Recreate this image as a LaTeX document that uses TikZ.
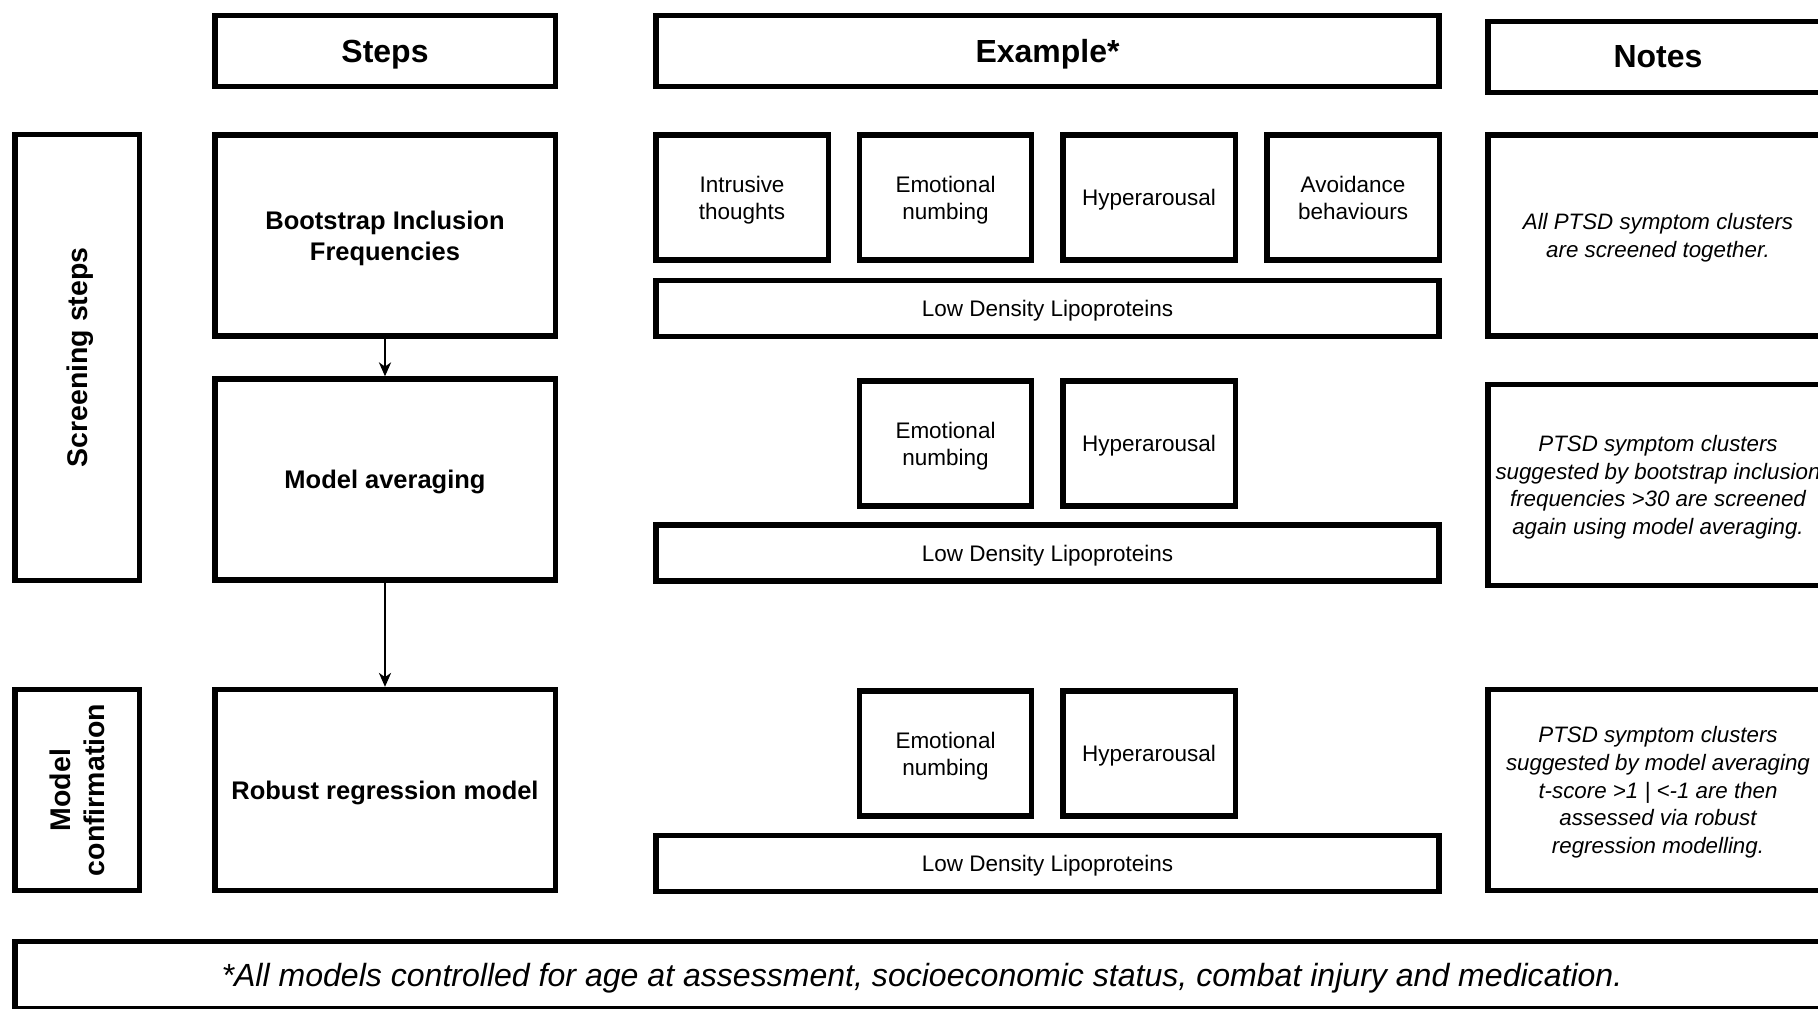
\documentclass[tikz,border=0pt]{standalone}
\usepackage{fontspec}
\setmainfont{Liberation Sans}
\usetikzlibrary{arrows.meta}

\begin{document}
\begin{tikzpicture}[x=0.02cm,y=-0.02cm,
  box/.style={draw,line width=3.1pt,align=center,inner sep=2pt,text depth=0pt},
  hdrbox/.style={box,minimum width=6.81cm,minimum height=1.42cm,font=\fontsize{18.2}{21.8}\selectfont\bfseries},
  stepbox/.style={box,minimum width=6.81cm,minimum height=4.02cm,font=\fontsize{14.5}{17.6}\selectfont\bfseries},
  sidebox/.style={box,rotate=90,minimum height=2.49cm,font=\fontsize{16.2}{19.7}\selectfont\bfseries},
  symbox/.style={box,minimum width=3.45cm,minimum height=2.5cm,font=\fontsize{12.8}{15.3}\selectfont},
  ldlbox/.style={box,minimum width=15.67cm,minimum height=1.12cm,font=\fontsize{12.8}{15.3}\selectfont},
  notebox/.style={box,minimum width=6.81cm,minimum height=4.02cm,font=\fontsize{12.7}{15.8}\selectfont\itshape},
  flow/.style={-{Stealth[length=8pt,width=7pt,inset=2.5pt]},line width=0.7pt}]
  \clip (0,0) rectangle (1818,1008);
  % Column headers
  \node[hdrbox] (hsteps) at (385,51) {Steps};
  \node[hdrbox,minimum width=15.67cm] (hexample) at (1047.5,51) {Example*};
  \node[hdrbox] (hnotes) at (1658,56.8) {Notes};
  % Side labels
  \node[sidebox,minimum width=8.92cm] (screen) at (77.3,357.4) {Screening steps};
  \node[sidebox,minimum width=4.02cm] (confirm) at (77.3,790) {Model\\confirmation};
  % Steps
  \node[stepbox] (boot) at (385,235.5) {Bootstrap Inclusion\\Frequencies};
  \node[stepbox] (avg) at (385,479.5) {Model averaging};
  \node[stepbox] (robust) at (385,790) {Robust regression model};
  \draw[flow] (boot.south) -- (avg.north);
  \draw[flow] (avg.south) -- (robust.north);
  % Example, first screening
  \node[symbox] (intr1) at (742,197.5) {Intrusive\\thoughts};
  \node[symbox] (emo1) at (945.5,197.5) {Emotional\\numbing};
  \node[symbox] (hyp1) at (1149,197.5) {Hyperarousal};
  \node[symbox] (avoid1) at (1353,197.5) {Avoidance\\behaviours};
  \node[ldlbox] (ldl1) at (1047.5,308.6) {Low Density Lipoproteins};
  % Example, model averaging
  \node[symbox] (emo2) at (945.5,443.5) {Emotional\\numbing};
  \node[symbox] (hyp2) at (1149,443.5) {Hyperarousal};
  \node[ldlbox] (ldl2) at (1047.5,553) {Low Density Lipoproteins};
  % Example, confirmation
  \node[symbox] (emo3) at (945.5,753.5) {Emotional\\numbing};
  \node[symbox] (hyp3) at (1149,753.5) {Hyperarousal};
  \node[ldlbox] (ldl3) at (1047.5,863.7) {Low Density Lipoproteins};
  % Notes
  \node[notebox] (noteA) at (1658,235.5) {All PTSD symptom clusters\\are screened together.};
  \node[notebox] (noteB) at (1658,485) {PTSD symptom clusters\\suggested by bootstrap inclusion\\frequencies >30 are screened\\again using model averaging.};
  \node[notebox] (noteC) at (1658,790) {PTSD symptom clusters\\suggested by model averaging\\t-score >1 | <-1 are then\\assessed via robust\\regression modelling.};
  % Footnote
  \node[box,minimum width=36.28cm,minimum height=1.34cm,font=\fontsize{18.25}{21.9}\selectfont\itshape] (foot) at (922,975.25) {*All models controlled for age at assessment, socioeconomic status, combat injury and medication.};
\end{tikzpicture}
\end{document}
